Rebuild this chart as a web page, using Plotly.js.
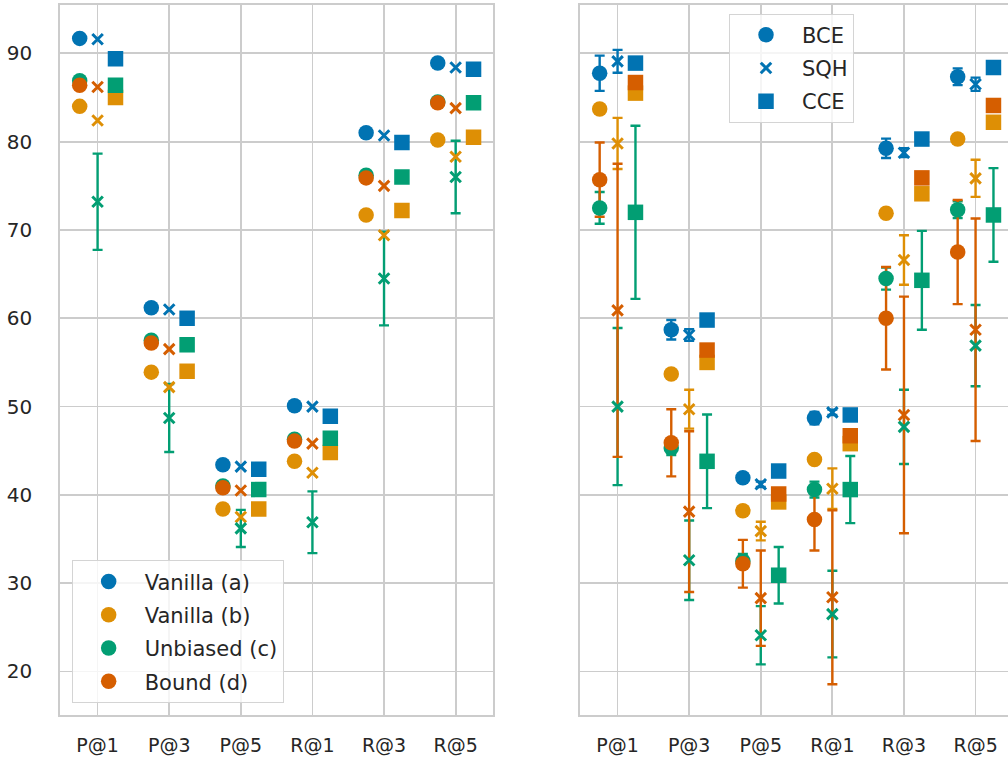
<!DOCTYPE html>
<html>
<head>
<meta charset="utf-8">
<script src="https://cdn.plot.ly/plotly-3.0.1.min.js"></script>
<style>html,body{margin:0;padding:0;background:#fff;}#chart{width:1008px;height:760px;}</style>
</head>
<body>
<div id="chart"></div>
<script>
// ---------- data ----------
const categories = ['P@1', 'P@3', 'P@5', 'R@1', 'R@3', 'R@5'];
const methods = ['Vanilla (a)', 'Vanilla (b)', 'Unbiased (c)', 'Bound (d)'];
const losses = ['BCE', 'SQH', 'CCE'];
const yTicks = [20, 30, 40, 50, 60, 70, 80, 90];

// left panel values
const left_a_BCE = [91.7, 61.2, 43.4, 50.1, 81.0, 88.9];
const left_a_SQH = [91.6, 61.0, 43.2, 50.0, 80.7, 88.4];
const left_a_CCE = [89.4, 60.0, 42.9, 48.9, 79.9, 88.2];
const left_b_BCE = [84.0, 53.9, 38.4, 43.8, 71.7, 80.2];
const left_b_SQH = [82.4, 52.2, 37.5, 42.5, 69.4, 78.3];
const left_b_CCE = [85.0, 54.0, 38.4, 44.8, 72.2, 80.5];
const left_c_BCE = [86.9, 57.5, 41.0, 46.3, 76.2, 84.5];
const left_c_SQH = [73.2, 48.7, 36.2, 36.9, 64.5, 76.0];
const left_c_SQH_err = [5.45, 3.85, 2.1, 3.5, 5.3, 4.1];
const left_c_CCE = [86.4, 57.0, 40.6, 46.4, 76.0, 84.4];
const left_d_BCE = [86.4, 57.2, 40.8, 46.1, 75.9, 84.4];
const left_d_SQH = [86.2, 56.5, 40.5, 45.8, 75.0, 83.8];
const left_d_CCE = [null, null, null, null, null, null];

// right panel values
const right_a_BCE = [87.75, 58.7, 41.95, 48.7, 79.25, 87.35];
const right_a_BCE_err = [2.0, 1.1, 0.4, 0.7, 1.1, 0.95];
const right_a_SQH = [89.1, 58.1, 41.2, 49.35, 78.75, 86.5];
const right_a_SQH_err = [1.3, 0.65, 0.3, 0.3, 0.5, 0.75];
const right_a_CCE = [88.9, 59.8, 42.7, 49.05, 80.3, 88.4];
const right_b_BCE = [83.7, 53.7, 38.2, 44.0, 71.9, 80.3];
const right_b_SQH = [79.8, 49.7, 35.9, 40.7, 66.6, 75.85];
const right_b_SQH_err = [2.9, 2.2, 1.05, 2.3, 2.8, 2.1];
const right_b_CCE = [85.5, 55.0, 39.2, 45.8, 74.1, 82.2];
const right_c_BCE = [72.5, 45.3, 32.5, 40.6, 64.5, 72.3];
const right_c_BCE_err = [1.8, 0.8, 0.8, 0.9, 1.25, 0.95];
const right_c_SQH = [50.0, 32.6, 24.1, 26.5, 47.7, 56.9];
const right_c_SQH_err = [8.9, 4.5, 3.3, 4.9, 4.2, 4.6];
const right_c_CCE = [72.0, 43.8, 30.9, 40.6, 64.3, 71.7];
const right_c_CCE_err = [9.8, 5.3, 3.2, 3.8, 5.6, 5.3];
const right_d_BCE = [75.7, 45.9, 32.2, 37.2, 60.0, 67.5];
const right_d_BCE_err = [4.2, 3.8, 2.7, 3.5, 5.8, 5.9];
const right_d_SQH = [60.9, 38.1, 28.3, 28.4, 49.05, 58.7];
const right_d_SQH_err = [16.6, 9.1, 5.4, 9.85, 13.4, 12.6];
const right_d_CCE = [86.7, 56.4, 40.1, 46.7, 75.9, 84.1];

// ---------- style ----------
const colors = ['#0173b2', '#de8f05', '#029e73', '#d55e00'];
const symbols = {BCE: 'circle', SQH: 'x-thin-open', CCE: 'square'};
const offsets = {BCE: -0.25, SQH: 0, CCE: 0.25};
const FONT = 'DejaVu Sans, sans-serif';
const TXT = '#262626';
const GRID = '#cccccc';

const left = [
  [left_a_BCE, left_a_SQH, left_a_CCE],
  [left_b_BCE, left_b_SQH, left_b_CCE],
  [left_c_BCE, left_c_SQH, left_c_CCE],
  [left_d_BCE, left_d_SQH, left_d_CCE]
];
const leftErr = [
  [null, null, null],
  [null, null, null],
  [null, left_c_SQH_err, null],
  [null, null, null]
];
const right = [
  [right_a_BCE, right_a_SQH, right_a_CCE],
  [right_b_BCE, right_b_SQH, right_b_CCE],
  [right_c_BCE, right_c_SQH, right_c_CCE],
  [right_d_BCE, right_d_SQH, right_d_CCE]
];
const rightErr = [
  [right_a_BCE_err, right_a_SQH_err, null],
  [null, right_b_SQH_err, null],
  [right_c_BCE_err, right_c_SQH_err, right_c_CCE_err],
  [right_d_BCE_err, right_d_SQH_err, null]
];

const xIdx = categories.map((_, i) => i);
const errTraces = [];
const markTraces = [];

function buildPanel(vals, errs, xa, ya, panel) {
  methods.forEach((m, mi) => {
    losses.forEach((l, li) => {
      const xs = xIdx.map(i => i + offsets[l]);
      const e = errs[mi][li];
      if (e) {
        errTraces.push({
          type: 'scatter', mode: 'markers', x: xs, y: vals[mi][li], xaxis: xa, yaxis: ya,
          marker: {size: 2, opacity: 0, color: colors[mi]},
          error_y: {type: 'data', array: e, visible: true, color: colors[mi], thickness: 2.4, width: 5},
          showlegend: false, hoverinfo: 'skip'
        });
      }
      const isX = l === 'SQH';
      let name, showlegend = false, legend, group;
      if (panel === 1) { name = m; showlegend = (l === 'BCE'); legend = 'legend'; group = 'L' + mi; }
      else { name = l; showlegend = (mi === 0); legend = 'legend2'; group = 'R' + li; }
      markTraces.push({
        type: 'scatter', mode: 'markers', x: xs, y: vals[mi][li], xaxis: xa, yaxis: ya,
        name: name, showlegend: showlegend, legend: legend, legendgroup: group,
        marker: {
          symbol: symbols[l], color: colors[mi],
          size: isX ? 10.5 : 15.5,
          line: isX ? {color: colors[mi], width: 3} : {width: 0}
        },
        hovertemplate: m + ' ' + l + ': %{y}<extra></extra>'
      });
    });
  });
}
buildPanel(left, leftErr, 'x', 'y', 1);
buildPanel(right, rightErr, 'x2', 'y2', 2);

const axBase = {
  showgrid: true, gridcolor: GRID, gridwidth: 1.8, zeroline: false,
  showline: true, linecolor: GRID, linewidth: 1.8,
  tickfont: {family: FONT, size: 20, color: TXT}
};
const xBase = Object.assign({}, axBase, {
  tickmode: 'array', tickvals: xIdx, ticktext: categories,
  ticks: 'outside', tickcolor: 'rgba(0,0,0,0)', ticklen: 12,
  tickfont: {family: FONT, size: 19, color: TXT}
});
const yBase = Object.assign({}, axBase, {
  tickmode: 'array', tickvals: yTicks, range: [15.07, 95.48],
  ticks: '', ticklabelstandoff: 22
});

const legendBase = {
  bgcolor: 'rgba(255,255,255,0.8)', bordercolor: '#d4d4d4', borderwidth: 1,
  font: {family: FONT, size: 21, color: TXT}, tracegroupgap: 3,
  itemwidth: 62, xanchor: 'left'
};

const layout = {
  width: 1008, height: 760,
  margin: {l: 60, r: 0, t: 5, b: 45},
  paper_bgcolor: '#ffffff', plot_bgcolor: '#ffffff',
  font: {family: FONT, color: TXT},
  xaxis: Object.assign({}, xBase, {domain: [0, 0.457], range: [-0.525, 5.525], mirror: true, anchor: 'y'}),
  yaxis: Object.assign({}, yBase, {mirror: true, anchor: 'x'}),
  xaxis2: Object.assign({}, xBase, {domain: [0.5485, 1], range: [-0.525, 5.453], mirror: true, anchor: 'y2'}),
  yaxis2: Object.assign({}, yBase, {matches: 'y', showticklabels: false, mirror: false, anchor: 'x2'}),
  legend: Object.assign({}, legendBase, {x: 0.0123, y: 0.0165, yanchor: 'bottom'}),
  legend2: Object.assign({}, legendBase, {x: 0.7057, y: 0.988, yanchor: 'top'}),
  showlegend: true
};

Plotly.newPlot('chart', errTraces.concat(markTraces), layout, {displayModeBar: false, staticPlot: true});
</script>
</body>
</html>
